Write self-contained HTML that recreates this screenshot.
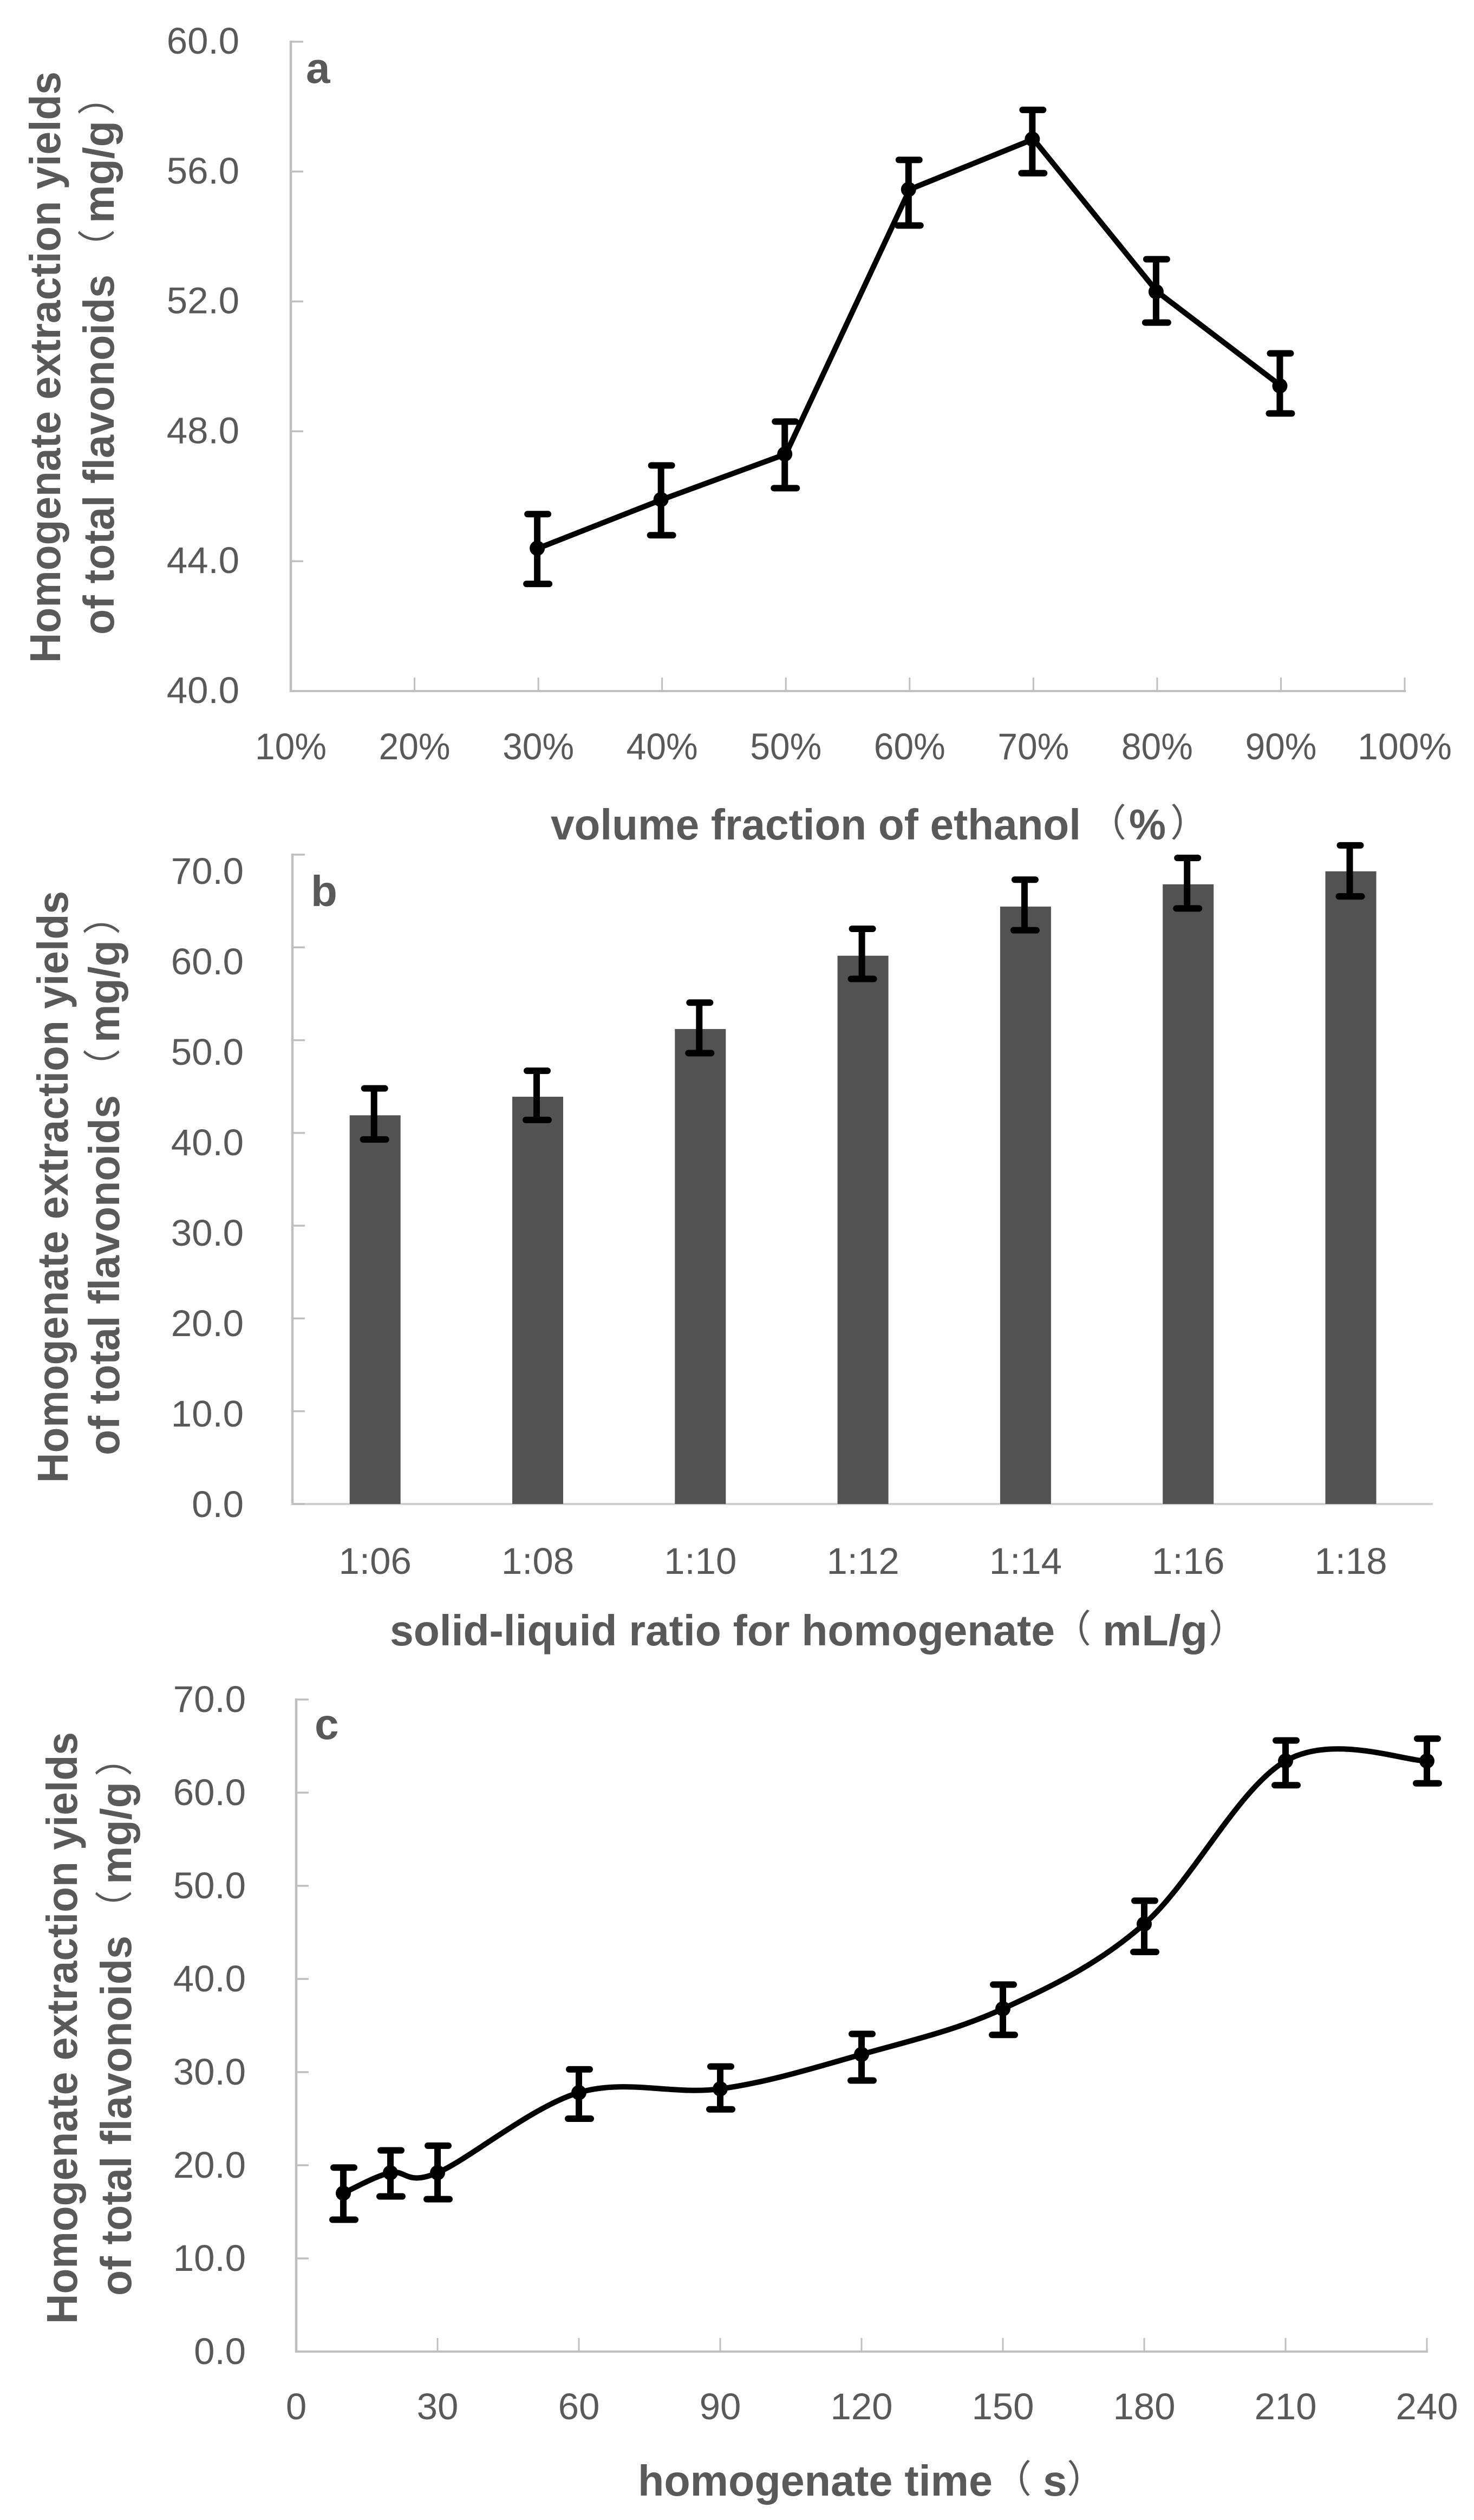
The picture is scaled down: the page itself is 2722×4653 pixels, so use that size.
<!DOCTYPE html>
<html lang="en">
<head>
<meta charset="utf-8">
<title>Homogenate extraction yields of total flavonoids</title>
<style>
html,body{margin:0;padding:0;background:#fff;}
svg{display:block;}
text{font-family:"Liberation Sans","Noto Sans CJK SC",sans-serif;fill:#595959;}
.t{font-size:80px;font-weight:700;}
.p{font-size:70px;font-weight:400;}
.n{font-size:69px;font-weight:400;}
</style>
</head>
<body>
<svg id="fig" xmlns="http://www.w3.org/2000/svg" width="2722" height="4653" viewBox="0 0 2722 4653">
  <rect x="0" y="0" width="2722" height="4653" fill="#ffffff"/>

  <!-- Panel a titles -->
  <text class="t" x="565" y="153">a</text>
  <g transform="translate(111,1224) rotate(-90)">
    <text class="t" x="0" y="0" textLength="1092" lengthAdjust="spacingAndGlyphs">Homogenate extraction yields</text>
  </g>
  <g transform="translate(210,1172) rotate(-90)">
    <text class="t" x="0" y="0" textLength="665" lengthAdjust="spacingAndGlyphs">of total flavonoids</text>
    <text class="p" x="679" y="-6">（</text>
    <text class="t" x="760" y="0" textLength="189" lengthAdjust="spacingAndGlyphs">mg/g</text>
    <text class="p" x="959" y="-6">）</text>
  </g>
  <g>
    <text class="t" x="1017" y="1550" textLength="979" lengthAdjust="spacingAndGlyphs">volume fraction of ethanol</text>
    <text class="p" x="2010" y="1544">（</text>
    <text class="t" x="2085" y="1550" textLength="68" lengthAdjust="spacingAndGlyphs">%</text>
    <text class="p" x="2161" y="1544">）</text>
  </g>
  <rect x="2040" y="1553" width="165" height="14" fill="#ffffff"/>

  <!-- Panel b titles -->
  <text class="t" x="574" y="1673">b</text>
  <g transform="translate(125,2738) rotate(-90)">
    <text class="t" x="0" y="0" textLength="1093" lengthAdjust="spacingAndGlyphs">Homogenate extraction yields</text>
  </g>
  <g transform="translate(220,2687) rotate(-90)">
    <text class="t" x="0" y="0" textLength="665" lengthAdjust="spacingAndGlyphs">of total flavonoids</text>
    <text class="p" x="681" y="-6">（</text>
    <text class="t" x="762" y="0" textLength="189" lengthAdjust="spacingAndGlyphs">mg/g</text>
    <text class="p" x="961" y="-6">）</text>
  </g>
  <g>
    <text class="t" x="720" y="3038" textLength="1228" lengthAdjust="spacingAndGlyphs">solid-liquid ratio for homogenate</text>
    <text class="p" x="1945" y="3032">（</text>
    <text class="t" x="2036" y="3038" textLength="194" lengthAdjust="spacingAndGlyphs">mL/g</text>
    <text class="p" x="2232" y="3032">）</text>
  </g>

  <!-- Panel c titles -->
  <text class="t" x="581" y="3211">c</text>
  <g transform="translate(142,4291) rotate(-90)">
    <text class="t" x="0" y="0" textLength="1093" lengthAdjust="spacingAndGlyphs">Homogenate extraction yields</text>
  </g>
  <g transform="translate(242,4239) rotate(-90)">
    <text class="t" x="0" y="0" textLength="665" lengthAdjust="spacingAndGlyphs">of total flavonoids</text>
    <text class="p" x="679" y="-6">（</text>
    <text class="t" x="760" y="0" textLength="189" lengthAdjust="spacingAndGlyphs">mg/g</text>
    <text class="p" x="959" y="-6">）</text>
  </g>
  <g>
    <text class="t" x="1178" y="4608" textLength="655" lengthAdjust="spacingAndGlyphs">homogenate time</text>
    <text class="p" x="1835" y="4602">（</text>
    <text class="t" x="1926" y="4608">s</text>
    <text class="p" x="1970" y="4602">）</text>
  </g>
</svg>

<script>
// Panel a data
const aCategories = [30, 40, 50, 60, 70, 80, 90];
const aValues = [44.4, 45.9, 47.3, 55.45, 57.0, 52.3, 49.4];
const aUpper = [45.45, 46.95, 48.3, 56.36, 57.9, 53.3, 50.4];
const aLower = [43.3, 44.8, 46.25, 54.34, 55.95, 51.35, 48.55];
const aXTicks = [10, 20, 30, 40, 50, 60, 70, 80, 90, 100];
const aYTicks = [40, 44, 48, 52, 56, 60];

// Panel b data
const bCategories = ['1:06', '1:08', '1:10', '1:12', '1:14', '1:16', '1:18'];
const bValues = [41.9, 43.9, 51.2, 59.1, 64.4, 66.8, 68.2];
const bUpper = [44.8, 46.7, 54.05, 62.0, 67.3, 69.64, 71.0];
const bLower = [39.3, 41.4, 48.6, 56.6, 61.85, 64.2, 65.5];
const bYTicks = [0, 10, 20, 30, 40, 50, 60, 70];

// Panel c data
const cCategories = [10, 20, 30, 60, 90, 120, 150, 180, 210, 240];
const cValues = [17.0, 19.2, 19.2, 27.8, 28.2, 31.9, 36.8, 45.9, 63.4, 63.4];
const cUpper = [19.75, 21.6, 22.1, 30.3, 30.6, 34.1, 39.4, 48.4, 65.6, 65.8];
const cLower = [14.16, 16.66, 16.36, 25.0, 26.0, 29.1, 34.0, 42.9, 60.8, 61.0];
const cXTicks = [0, 30, 60, 90, 120, 150, 180, 210, 240];
const cYTicks = [0, 10, 20, 30, 40, 50, 60, 70];

const svg = document.getElementById('fig');
const NS = 'http://www.w3.org/2000/svg';
const AXIS = '#bfbfbf';

function mk(tag, attrs) {
  const el = document.createElementNS(NS, tag);
  for (const k in attrs) el.setAttribute(k, attrs[k]);
  svg.appendChild(el);
  return el;
}

function axisLine(x1, y1, x2, y2, w, color, name) {
  const el = mk('line', {x1: x1, y1: y1, x2: x2, y2: y2, stroke: color, 'stroke-width': w});
  
  
  return el;
}

function label(x, y, str, anchor, name, len) {
  const el = mk('text', {x: x, y: y, 'text-anchor': anchor, 'class': 'n'});
  el.textContent = str;
  if (len) {
    el.setAttribute('textLength', len);
    el.setAttribute('lengthAdjust', 'spacingAndGlyphs');
  }
  
  
  return el;
}

function errorBar(x, yTop, yBottom, name) {
  const stem = mk('line', {x1: x - 2, y1: yTop, x2: x - 2, y2: yBottom, stroke: '#000', 'stroke-width': 12});
  
  
  const capTop = mk('line', {x1: x - 20, y1: yTop, x2: x + 18, y2: yTop, stroke: '#000', 'stroke-width': 12, 'stroke-linecap': 'round'});
  
  
  const capBottom = mk('line', {x1: x - 22, y1: yBottom, x2: x + 20, y2: yBottom, stroke: '#000', 'stroke-width': 12, 'stroke-linecap': 'round'});
  
  
}

function point(x, y, name) {
  const el = mk('circle', {cx: x, cy: y, r: 14, fill: '#000'});
  
  
}

/* ---------- Panel a ---------- */
const aX = p => 537 + (p - 10) * (2594 - 537) / 90;
const aY = v => 1276 - (v - 40) * (1276 - 77) / 20;
axisLine(537, 75, 537, 1278, 4.5, AXIS, 'y-axis-a');
axisLine(535, 1276, 2596, 1276, 4, AXIS, 'x-axis-a');
aYTicks.forEach(v => {
  axisLine(537, aY(v), 560, aY(v), 3.5, AXIS, 'y-tick-a');
  label(442, aY(v) + 22, v.toFixed(1), 'end', 'y-tick-label-a');
});
aXTicks.forEach(p => {
  axisLine(aX(p), 1276, aX(p), 1251, 3, AXIS, 'x-tick-a');
  label(aX(p), 1402, p + '%', 'middle', 'x-tick-label-a', p === 100 ? 174 : 132);
});
const aLine = mk('polyline', {
  points: aCategories.map((c, i) => aX(c) + ',' + aY(aValues[i])).join(' '),
  fill: 'none', stroke: '#000', 'stroke-width': 10, 'stroke-linejoin': 'round'
});


aCategories.forEach((c, i) => {
  errorBar(aX(c), aY(aUpper[i]), aY(aLower[i]), 'error-bar-a');
  point(aX(c) - 2, aY(aValues[i]), 'point-a');
});

/* ---------- Panel b ---------- */
const bBand = 300.3;
const bX = i => 692.7 + i * bBand;
const bY = v => 2777 - v * (2777 - 1578) / 70;
const bLabelY = v => 2801 - v * 16.7;
const BAR_W = 94;
axisLine(540, 1576, 540, 2779, 4.5, AXIS, 'y-axis-b');
axisLine(538, 2777, 2646, 2777, 4, '#d0d0d0', 'x-axis-b');
bYTicks.forEach(v => {
  axisLine(540, bY(v), 563, bY(v), 3.5, AXIS, 'y-tick-b');
  label(450, bLabelY(v), v.toFixed(1), 'end', 'y-tick-label-b');
});
bCategories.forEach((c, i) => {
  const bar = mk('rect', {x: bX(i) - BAR_W / 2, y: bY(bValues[i]), width: BAR_W, height: bY(0) - bY(bValues[i]), fill: '#525252'});
  
  
  label(bX(i), 2906, c, 'middle', 'x-tick-label-b');
});
bCategories.forEach((c, i) => {
  errorBar(bX(i), bY(bUpper[i]), bY(bLower[i]), 'error-bar-b');
});

/* ---------- Panel c ---------- */
const cX = t => 547 + t * (2635 - 547) / 240;
const cY = v => 4342 - v * (4342 - 3138) / 70;
axisLine(547, 3136, 547, 4344, 4.5, AXIS, 'y-axis-c');
axisLine(545, 4342, 2637, 4342, 4, AXIS, 'x-axis-c');
cYTicks.forEach(v => {
  axisLine(547, cY(v), 570, cY(v), 3.5, AXIS, 'y-tick-c');
  label(454, cY(v) + 23, v.toFixed(1), 'end', 'y-tick-label-c');
});
cXTicks.forEach(t => {
  if (t > 0) axisLine(cX(t), 4342, cX(t), 4317, 3, AXIS, 'x-tick-c');
  label(cX(t), 4467, String(t), 'middle', 'x-tick-label-c');
});
function smoothPath(xs, ys) {
  let d = 'M' + cX(xs[0]) + ' ' + cY(ys[0]);
  for (let i = 0; i < xs.length - 1; i++) {
    const a = Math.max(i - 1, 0), b = i, e = i + 1, f = Math.min(i + 2, xs.length - 1);
    const c1x = xs[b] + (xs[e] - xs[a]) / 6, c1y = ys[b] + (ys[e] - ys[a]) / 6;
    const c2x = xs[e] - (xs[f] - xs[b]) / 6, c2y = ys[e] - (ys[f] - ys[b]) / 6;
    d += ' C' + cX(c1x) + ' ' + cY(c1y) + ' ' + cX(c2x) + ' ' + cY(c2y) + ' ' + cX(xs[e]) + ' ' + cY(ys[e]);
  }
  return d;
}
const cLine = mk('path', {d: smoothPath(cCategories, cValues), fill: 'none', stroke: '#000', 'stroke-width': 10, 'stroke-linejoin': 'round'});


cCategories.forEach((t, i) => {
  errorBar(cX(t) + 2, cY(cUpper[i]), cY(cLower[i]), 'error-bar-c');
  point(cX(t), cY(cValues[i]), 'point-c');
});
</script>
</body>
</html>
